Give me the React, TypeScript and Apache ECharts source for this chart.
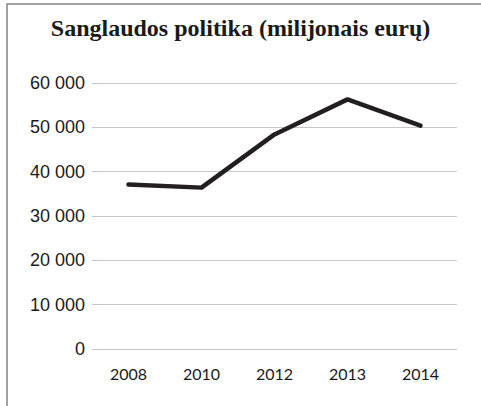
import React, { useEffect, useRef } from "react";
import * as echarts from "echarts";

const title = "Sanglaudos politika (milijonais eurų)";
const categories = ["2008", "2010", "2012", "2013", "2014"];
const values = [37100, 36400, 48400, 56300, 50400];
const yTicks = { min: 0, max: 60000, interval: 10000 };

function fmt(v: number): string {
  return String(v).replace(/\B(?=(\d{3})+(?!\d))/g, " ");
}

export default function App() {
  const ref = useRef<HTMLDivElement>(null);
  useEffect(() => {
    if (!ref.current) return;
    const chart = echarts.init(ref.current, undefined, { renderer: "svg" });
    chart.setOption({
      animation: false,
      backgroundColor: "#ffffff",
      title: {
        text: title,
        left: "center",
        top: 11,
        textStyle: {
          fontFamily: "Liberation Serif",
          fontWeight: "bold",
          fontSize: 24,
          color: "#1a1a1a",
        },
      },
      graphic: [
        {
          type: "polyline",
          shape: { points: [[7, 406], [7, 4], [481, 4]] },
          style: { stroke: "#858585", lineWidth: 1.5, fill: "none" },
          silent: true,
        },
      ],
      grid: { left: 92, right: 24, top: 83, bottom: 57 },
      xAxis: {
        type: "category",
        data: categories,
        boundaryGap: true,
        axisLine: { show: false },
        axisTick: { show: false },
        axisLabel: {
          margin: 16,
          fontFamily: "Lato",
          fontSize: 16,
          color: "#1a1a1a",
        },
      },
      yAxis: {
        type: "value",
        min: yTicks.min,
        max: yTicks.max,
        interval: yTicks.interval,
        axisLine: { show: false },
        axisTick: { show: false },
        splitLine: { lineStyle: { color: "#c6c6c6", width: 1 } },
        axisLabel: {
          margin: 7,
          fontFamily: "Liberation Sans",
          fontSize: 18,
          color: "#1a1a1a",
          formatter: (v: number) => fmt(v),
        },
      },
      series: [
        {
          type: "line",
          data: values,
          symbol: "none",
          lineStyle: { color: "#231f20", width: 4.5, cap: "round", join: "round" },
        },
      ],
    });
    return () => chart.dispose();
  }, []);
  return (
    <div
      ref={ref}
      style={{ position: "fixed", left: 0, top: 0, width: 481, height: 406 }}
    />
  );
}
